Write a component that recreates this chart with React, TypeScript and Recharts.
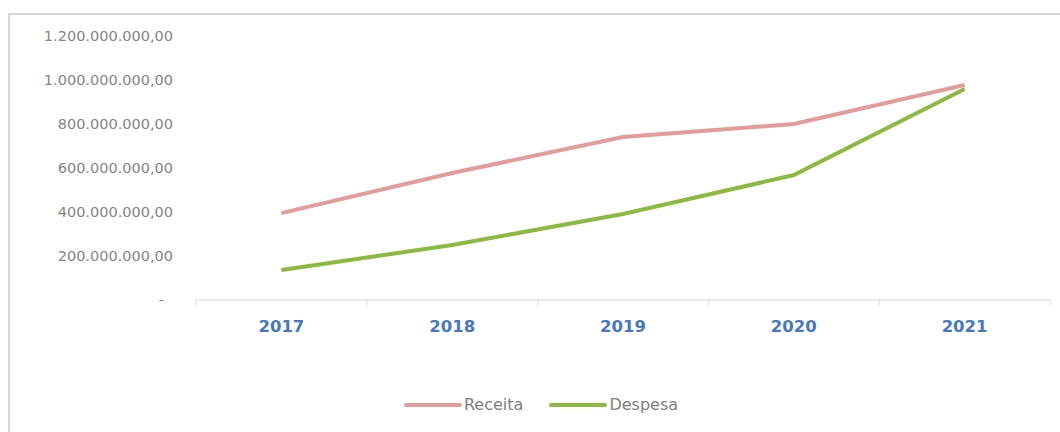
import { LineChart, Line, XAxis, YAxis, Legend } from 'recharts'

const years = ['2017', '2018', '2019', '2020', '2021']
const receita = [395000000, 577000000, 741000000, 800000000, 977000000]
const despesa = [136000000, 250000000, 391000000, 568000000, 959000000]
const yTicks = [0, 200000000, 400000000, 600000000, 800000000, 1000000000, 1200000000]
// integer ticks = category boundaries, half ticks = year labels
const xTicks = [0, 0.5, 1, 1.5, 2, 2.5, 3, 3.5, 4, 4.5, 5]

const series = [
  { key: 'receita', name: 'Receita', color: '#E39B9B' },
  { key: 'despesa', name: 'Despesa', color: '#8DB93E' },
]

const chartData = years.map((year, i) => ({ year, slot: i + 0.5, receita: receita[i], despesa: despesa[i] }))

function formatBRL(v: number) {
  if (v === 0) return '-'
  const s = Math.round(v).toString()
  const parts: string[] = []
  for (let i = s.length; i > 0; i -= 3) parts.unshift(s.slice(Math.max(0, i - 3), i))
  return parts.join('.') + ',00'
}

function YTick(props: any) {
  const { x, y, payload } = props
  const zero = payload.value === 0
  return (
    <text
      x={zero ? x - 9 : x}
      y={y}
      dy="0.355em"
      textAnchor="end"
      fill="#858585"
      fontSize={14.5}
      fontFamily="DejaVu Sans"
    >
      {formatBRL(payload.value)}
    </text>
  )
}

function XTick(props: any) {
  const { x, y, payload } = props
  const v = payload.value
  if (Number.isInteger(v)) {
    return <line x1={x} y1={y} x2={x} y2={y + 5} stroke="#d9d9d9" />
  }
  return (
    <text
      x={x}
      y={y + 32}
      textAnchor="middle"
      fill="#4677C6"
      fontSize={16.5}
      fontWeight="bold"
      fontFamily="DejaVu Sans"
    >
      {years[Math.floor(v)]}
    </text>
  )
}

function LegendContent() {
  return (
    <div
      style={{
        display: 'flex',
        justifyContent: 'center',
        alignItems: 'center',
        paddingLeft: 22,
        fontFamily: 'DejaVu Sans',
        fontSize: 16,
        color: '#7f7f7f',
      }}
    >
      {series.map((s) => (
        <div key={s.key} style={{ display: 'flex', alignItems: 'center', margin: '0 13px' }}>
          <svg width={58} height={10}>
            <line x1={2} y1={5} x2={56} y2={5} stroke={s.color} strokeWidth={4} strokeLinecap="round" />
          </svg>
          <span style={{ marginLeft: 2 }}>{s.name}</span>
        </div>
      ))}
    </div>
  )
}

export default function App() {
  return (
    <div style={{ position: 'absolute', left: 0, top: 0, width: 1060, height: 432, background: '#fff', overflow: 'hidden' }}>
      <div
        style={{
          position: 'absolute',
          left: 8,
          top: 13,
          width: 1100,
          height: 460,
          borderTop: '2px solid #d6d6d6',
          borderLeft: '2px solid #d6d6d6',
        }}
      />
      <div style={{ position: 'absolute', left: 0, top: 0 }}>
        <LineChart width={1060} height={432} data={chartData} margin={{ top: 36, right: 10, bottom: 102, left: 0 }}>
          <XAxis
            dataKey="slot"
            type="number"
            domain={[0, 5]}
            allowDataOverflow
            ticks={xTicks}
            interval={0}
            height={30}
            tickSize={0}
            tickMargin={0}
            tickLine={false}
            axisLine={{ stroke: '#d9d9d9' }}
            tick={<XTick />}
          />
          <YAxis
            width={196}
            domain={[0, 1200000000]}
            ticks={yTicks}
            axisLine={false}
            tickLine={false}
            tickSize={0}
            tickMargin={23}
            tick={<YTick />}
          />
          <Legend
            verticalAlign="middle"
            align="center"
            layout="horizontal"
            wrapperStyle={{ top: 395, left: 0, width: 1060 }}
            content={<LegendContent />}
          />
          {series.map((s) => (
            <Line
              key={s.key}
              type="linear"
              dataKey={s.key}
              name={s.name}
              stroke={s.color}
              strokeWidth={4}
              dot={false}
              isAnimationActive={false}
            />
          ))}
        </LineChart>
      </div>
    </div>
  )
}
